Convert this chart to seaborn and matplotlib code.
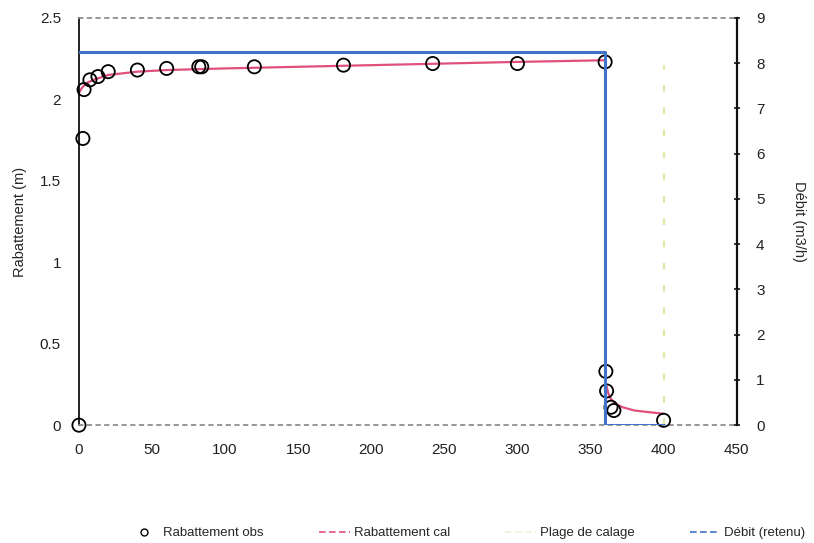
import numpy as np
import pandas as pd
import matplotlib
matplotlib.use("Agg")
import matplotlib.pyplot as plt
from matplotlib.lines import Line2D
import seaborn as sns

# Observed drawdown (time in min, drawdown in m)
t_obs = [0, 2.7, 3.5, 7.5, 13, 20, 40, 60, 82, 84, 120, 181, 242, 300, 360,
         360.5, 361, 364, 366, 400]
s_obs = [0.0, 1.76, 2.06, 2.12, 2.14, 2.17, 2.18, 2.19, 2.20, 2.20, 2.20,
         2.21, 2.22, 2.22, 2.23, 0.33, 0.21, 0.11, 0.09, 0.03]

# Calculated drawdown, pumping phase then recovery
t_cal_pump = [0, 2, 5, 10, 20, 40, 60, 100, 150, 200, 250, 300, 360]
s_cal_pump = [2.04, 2.07, 2.10, 2.12, 2.15, 2.17, 2.18, 2.19, 2.20, 2.21, 2.22, 2.23, 2.24]
t_cal_rec = [361, 362, 364, 367, 372, 380, 390, 400]
s_cal_rec = [0.24, 0.20, 0.16, 0.13, 0.11, 0.09, 0.08, 0.07]

# Pumping rate retained (m3/h)
t_q = [0, 360, 360, 400]
q = [8.25, 8.25, 0.0, 0.0]

# Calibration window limit
t_plage = [400, 400]
s_plage = [0.0, 2.21]

sns.set_theme(style="white")
plt.rcParams["font.family"] = ["Liberation Sans", "DejaVu Sans"]

fig = plt.figure(figsize=(8.14, 5.43), dpi=100)
ax = fig.add_axes([0.097, 0.217, 0.808, 0.75])
ax2 = ax.twinx()

pink = "#e0507a"
blue = "#3f74c8"
plage_col = "#e2e6a6"

df_obs = pd.DataFrame({"t": t_obs, "s": s_obs})
df_pump = pd.DataFrame({"t": t_cal_pump, "s": s_cal_pump})
df_rec = pd.DataFrame({"t": t_cal_rec, "s": s_cal_rec})
df_plage = pd.DataFrame({"t": t_plage, "s": s_plage})
df_q = pd.DataFrame({"t": t_q, "q": q})

sns.lineplot(data=df_pump, x="t", y="s", ax=ax, color=pink, lw=1.6,
             sort=False, estimator=None)
sns.lineplot(data=df_rec, x="t", y="s", ax=ax, color=pink, lw=1.6,
             sort=False, estimator=None)
sns.lineplot(data=df_plage, x="t", y="s", ax=ax, color=plage_col, lw=1.6,
             linestyle=(0, (3, 7)), sort=False, estimator=None)
sns.scatterplot(data=df_obs, x="t", y="s", ax=ax, marker="o", s=90,
                facecolor="none", edgecolor="black", linewidth=1.3, zorder=5,
                clip_on=False)
sns.lineplot(data=df_q, x="t", y="q", ax=ax2, color=blue, lw=2.2,
             sort=False, estimator=None)

ax.set_xlim(0, 450)
ax.set_ylim(0, 2.5)
ax2.set_ylim(0, 9)
ax.set_xticks(np.arange(0, 451, 50))
ax.set_yticks([0, 0.5, 1, 1.5, 2, 2.5])
ax.set_yticklabels(["0", "0.5", "1", "1.5", "2", "2.5"])
ax2.set_yticks(range(0, 10))

ax.set_xlabel("")
ax2.set_xlabel("")
ax.set_ylabel("Rabattement (m)", fontsize=10.5, labelpad=9)
ax2.set_ylabel("Débit (m3/h)", fontsize=10.5, rotation=-90, labelpad=30)

for a in (ax, ax2):
    a.tick_params(axis="both", labelsize=11, colors="#222222", length=0, pad=13)
    for sp in a.spines.values():
        sp.set_visible(False)
ax2.tick_params(axis="y", length=4, direction="inout", pad=12)

ax.spines["left"].set_visible(True)
ax.spines["left"].set_color("#111111")
ax.spines["left"].set_linewidth(1.3)
ax2.spines["right"].set_visible(True)
ax2.spines["right"].set_color("#111111")
ax2.spines["right"].set_linewidth(1.6)
ax.spines["top"].set_visible(True)
ax.spines["top"].set_color("#8a8a8a")
ax.spines["top"].set_linestyle((0, (2, 3)))
ax.spines["bottom"].set_visible(True)
ax.spines["bottom"].set_color("#8a8a8a")
ax.spines["bottom"].set_linestyle((0, (2, 3)))

handles = [
    Line2D([], [], marker="o", linestyle="none", markerfacecolor="none",
           markeredgecolor="black", markersize=5),
    Line2D([], [], color=pink, lw=1.2, linestyle=(0, (4, 2))),
    Line2D([], [], color="#f0f0e0", lw=1.2, linestyle=(0, (4, 2))),
    Line2D([], [], color=blue, lw=1.2, linestyle=(0, (4, 2))),
]
labels = ["Rabattement obs", "Rabattement cal", "Plage de calage", "Débit (retenu)"]
fig.legend(handles, labels, loc="center", bbox_to_anchor=(0.574, 0.018), ncol=4,
           frameon=False, fontsize=9.5, handlelength=2.3, columnspacing=4.2,
           handletextpad=0.3)

fig.savefig("out.png", dpi=100)
